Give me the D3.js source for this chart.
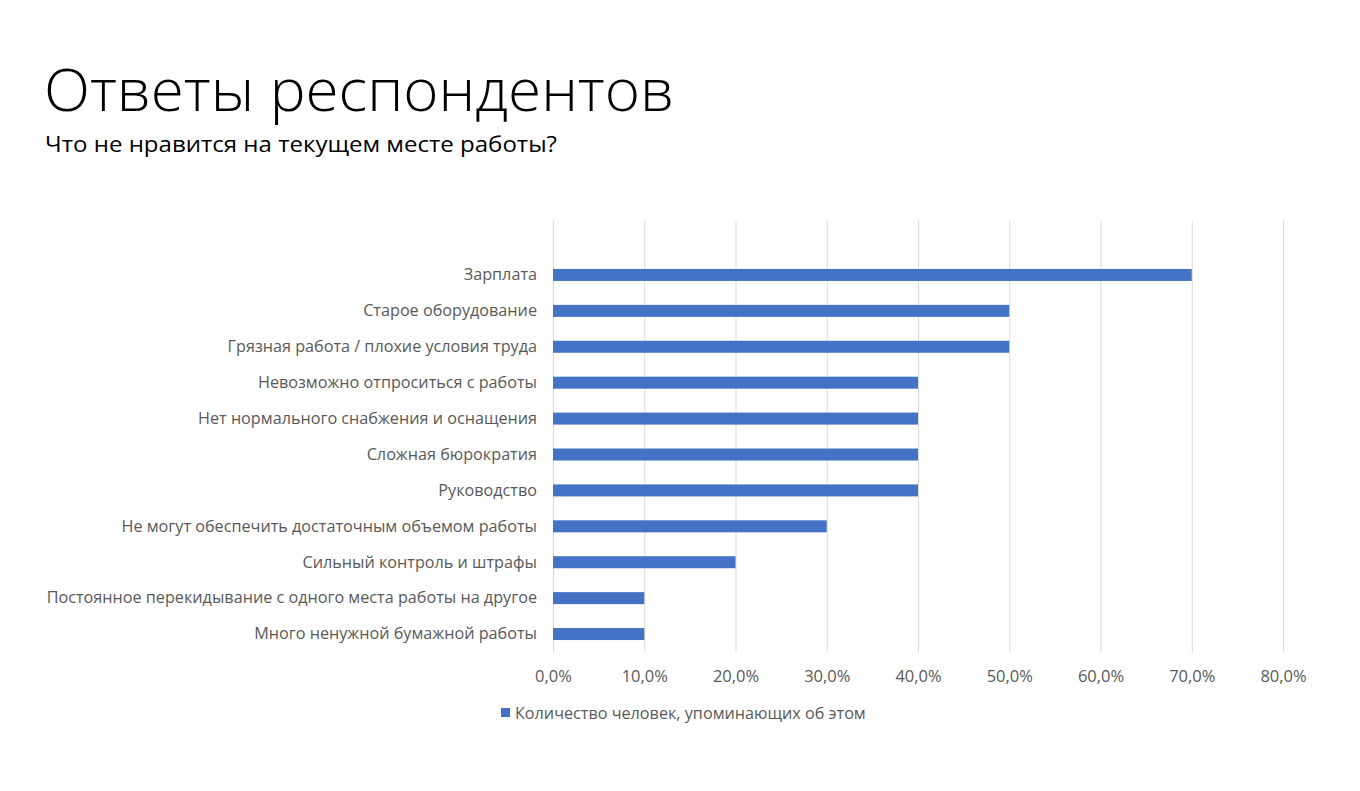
<!DOCTYPE html>
<html><head><meta charset="utf-8">
<script src="https://cdn.jsdelivr.net/npm/d3@7"></script>
<style>body{margin:0;background:#fff;} svg{display:block;}</style>
</head><body>
<svg id="c" width="1360" height="791"></svg>
<script>
const categories = ["Зарплата","Старое оборудование","Грязная работа / плохие условия труда","Невозможно отпроситься с работы","Нет нормального снабжения и оснащения","Сложная бюрократия","Руководство","Не могут обеспечить достаточным объемом работы","Сильный контроль и штрафы","Постоянное перекидывание с одного места работы на другое","Много ненужной бумажной работы"];
const values = [0.70,0.50,0.50,0.40,0.40,0.40,0.40,0.30,0.20,0.10,0.10];
const ticks = [0,0.1,0.2,0.3,0.4,0.5,0.6,0.7,0.8];
const seriesName = "Количество человек, упоминающих об этом";
const title = "Ответы респондентов";
const subtitle = "Что не нравится на текущем месте работы?";

const svg = d3.select("#c");
const font = "'Open Sans', 'Noto Sans', sans-serif";
const x = d3.scaleLinear().domain([0,0.8]).range([553,1283]);
const y = d3.scaleBand().domain(categories).range([257,652]).paddingInner(0.666).paddingOuter(0.333);
const gridTop = 221, gridBottom = 652;

svg.append("text").attr("x",44).attr("y",111).attr("font-family",font).attr("font-size",59).attr("font-weight",300).attr("fill","#000")
  .attr("textLength",630).attr("lengthAdjust","spacingAndGlyphs").text(title);
svg.append("text").attr("x",45).attr("y",152).attr("font-family",font).attr("font-size",22).attr("fill","#000")
  .attr("textLength",512).attr("lengthAdjust","spacingAndGlyphs").text(subtitle);

svg.append("g").selectAll("line").data(ticks).join("line")
  .attr("x1",d=>x(d)+0.5).attr("x2",d=>x(d)+0.5).attr("y1",gridTop).attr("y2",gridBottom)
  .attr("stroke","#d9d9d9").attr("stroke-width",1);

svg.append("g").selectAll("rect").data(values).join("rect")
  .attr("x",x(0)).attr("y",(d,i)=>y(categories[i])).attr("width",d=>x(d)-x(0)).attr("height",y.bandwidth())
  .attr("fill","#4472c4");

const xAxis = d3.axisBottom(x).tickValues(ticks).tickSize(0).tickPadding(0)
  .tickFormat(d=>d3.format(".1f")(d*100).replace(".",",")+"%");
const gx = svg.append("g").attr("transform",`translate(0,${682})`).call(xAxis);
gx.select(".domain").remove();
gx.selectAll("text").attr("font-family",font).attr("font-size",16.5).attr("fill","#595959").attr("dy",0);

const yAxis = d3.axisLeft(y).tickSize(0).tickPadding(0);
const gy = svg.append("g").attr("transform",`translate(537,0)`).call(yAxis);
gy.select(".domain").remove();
gy.selectAll("text").attr("font-family",font).attr("font-size",16.2).attr("fill","#595959").attr("dy","0.33em");

const lg = svg.append("g");
lg.append("rect").attr("x",501).attr("y",708).attr("width",9).attr("height",9).attr("fill","#4472c4");
lg.append("text").attr("x",515).attr("y",719).attr("font-family",font).attr("font-size",16.2).attr("fill","#595959").text(seriesName);
</script>
</body></html>
